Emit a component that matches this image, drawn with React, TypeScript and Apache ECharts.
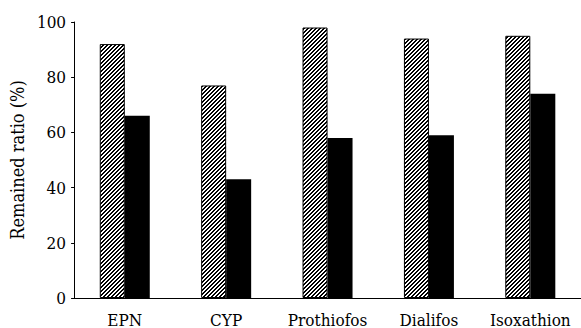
import React, { useEffect, useRef } from "react";
import * as echarts from "echarts";

const categories = ["EPN", "CYP", "Prothiofos", "Dialifos", "Isoxathion"];
const hatchedValues = [92, 77, 98, 94, 95];
const blackValues = [66, 43, 58, 59, 74];
const yTicks = [0, 20, 40, 60, 80, 100];
const yAxisTitle = "Remained ratio (%)";

const FONT = "'DejaVu Serif Condensed', 'Liberation Mono', monospace";

function makeHatch(): HTMLCanvasElement {
  const c = document.createElement("canvas");
  c.width = 4;
  c.height = 4;
  const ctx = c.getContext("2d")!;
  ctx.fillStyle = "#ffffff";
  ctx.fillRect(0, 0, 4, 4);
  ctx.fillStyle = "#000000";
  for (let x = 0; x < 4; x++) {
    const y1 = (3 - x + 4) % 4;
    const y2 = (4 - x + 4) % 4;
    ctx.fillRect(x, y1, 1, 1);
    ctx.fillRect(x, y2, 1, 1);
  }
  return c;
}

export default function App() {
  const ref = useRef<HTMLDivElement>(null);
  useEffect(() => {
    if (!ref.current) return;
    const chart = echarts.init(ref.current, undefined, { renderer: "svg" });
    const hatch = makeHatch();
    chart.setOption({
      animation: false,
      backgroundColor: "#ffffff",
      grid: { left: 66, top: 22, width: 525, height: 281, containLabel: false },
      xAxis: {
        type: "category",
        data: categories,
        axisLine: { show: true, lineStyle: { color: "#000", width: 1 } },
        axisTick: { show: false },
        axisLabel: { color: "#000", fontFamily: FONT, fontSize: 17, margin: 13, interval: 0 },
        splitLine: { show: false },
      },
      yAxis: {
        type: "value",
        min: yTicks[0],
        max: yTicks[yTicks.length - 1],
        interval: 20,
        name: yAxisTitle,
        nameLocation: "middle",
        nameGap: 33,
        nameRotate: 90,
        nameTextStyle: { color: "#000", fontFamily: FONT, fontSize: 18 },
        axisLine: { show: true, lineStyle: { color: "#000", width: 1 } },
        axisTick: { show: true, length: 3, lineStyle: { color: "#000" } },
        axisLabel: { color: "#000", fontFamily: FONT, fontSize: 17, margin: 8 },
        splitLine: { show: false },
      },
      series: [
        {
          type: "bar",
          data: hatchedValues,
          barWidth: 25,
          barGap: "0%",
          itemStyle: {
            color: { image: hatch, repeat: "repeat" },
            borderColor: "#000",
            borderWidth: 1,
          },
        },
        {
          type: "bar",
          data: blackValues,
          barWidth: 25,
          barGap: "0%",
          itemStyle: { color: "#000", borderWidth: 0 },
        },
      ],
    });
    return () => chart.dispose();
  }, []);
  return <div ref={ref} style={{ position: "fixed", left: 0, top: 0, width: 581, height: 328 }} />;
}
